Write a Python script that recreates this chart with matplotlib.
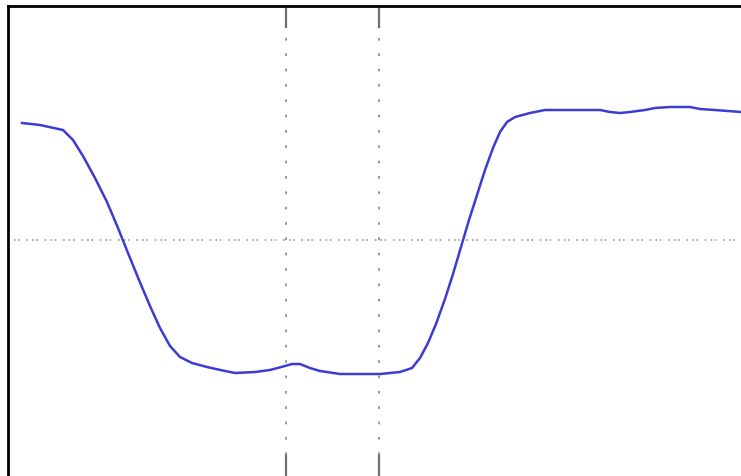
import numpy as np
import matplotlib
matplotlib.use("Agg")
import matplotlib.pyplot as plt

# trace (sample index, volts)
samples = [14, 32, 55, 65, 75, 87, 99, 110, 120, 131, 142, 152, 162, 172,
           184, 199, 217, 227, 247, 262, 277, 284, 292, 302, 312, 332, 352,
           372, 392, 404, 412, 420, 428, 437, 445, 453, 461, 469, 477, 485,
           492, 499, 507, 522, 537, 592, 602, 612, 622, 637, 647, 662, 682,
           692, 707, 733]
volts = [1.17, 1.15, 1.10, 1.00, 0.84, 0.62, 0.38, 0.12, -0.13, -0.40, -0.66,
         -0.88, -1.06, -1.17, -1.23, -1.27, -1.31, -1.33, -1.32, -1.30, -1.26,
         -1.24, -1.24, -1.28, -1.31, -1.34, -1.34, -1.34, -1.32, -1.28, -1.18,
         -1.03, -0.84, -0.59, -0.34, -0.07, 0.20, 0.45, 0.70, 0.92, 1.08, 1.18,
         1.23, 1.27, 1.30, 1.30, 1.28, 1.27, 1.28, 1.30, 1.32, 1.33, 1.33, 1.31,
         1.30, 1.28]

cursor_t = [278, 371]
trigger_level = 0.0

fig = plt.figure(figsize=(7.41, 4.76), dpi=100)
ax = fig.add_axes([8 / 741, 0, 733 / 741, 1 - 6 / 476])
ax.set_xlim(0, 733)
ax.set_ylim(-2.36, 2.34)

for side in ["right", "bottom"]:
    ax.spines[side].set_visible(False)
for side in ["left", "top"]:
    ax.spines[side].set_linewidth(2)
    ax.spines[side].set_color("black")
ax.set_xticks([])
ax.set_yticks([])

# cursors: solid stubs at the edges, dotted across the screen
for t in cursor_t:
    ax.axvline(t, ymin=0.955, ymax=1, color="#707070", lw=1.6)
    ax.axvline(t, ymin=0, ymax=0.045, color="#707070", lw=1.6)
    ax.axvline(t, ymin=0.045, ymax=0.955, color="#909090", lw=1.3,
               linestyle=(0, (1.5, 7)))
ax.axhline(trigger_level, color="#999999", lw=1.2,
           linestyle=(0, (1, 2.5, 1, 1.5, 1, 4)))

ax.plot(samples, volts, color="#3c3cd2", lw=1.8)

fig.savefig("out.png", dpi=100)
